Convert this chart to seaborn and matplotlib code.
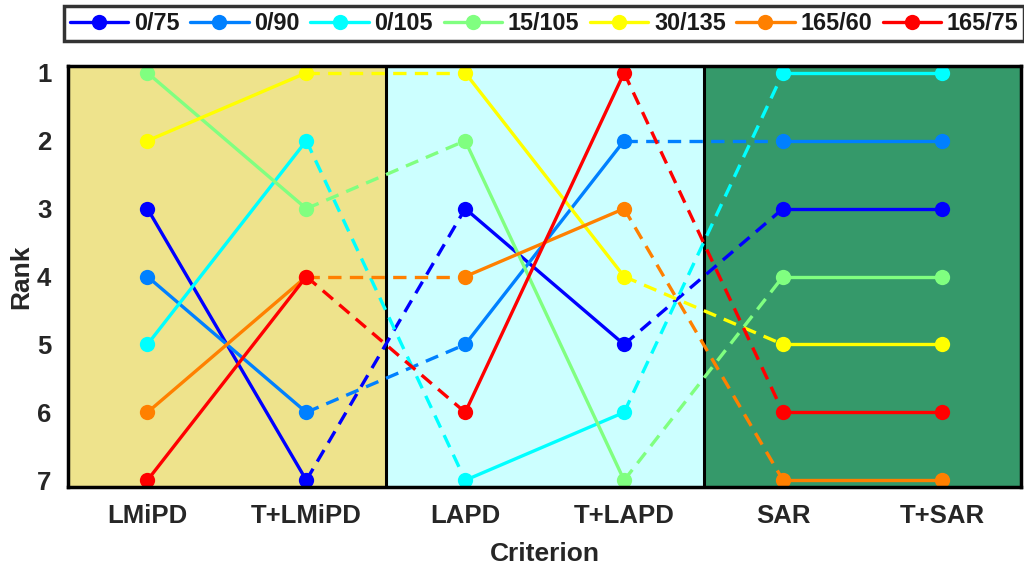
import matplotlib
matplotlib.use("Agg")
import matplotlib.pyplot as plt
import seaborn as sns
import pandas as pd
from matplotlib.lines import Line2D

sns.set_style("white")
plt.rcParams['font.family'] = ['Liberation Sans', 'DejaVu Sans']
plt.rcParams['font.weight'] = 'bold'

criteria = ["LMiPD", "T+LMiPD", "LAPD", "T+LAPD", "SAR", "T+SAR"]
series_names = ["0/75", "0/90", "0/105", "15/105", "30/135", "165/60", "165/75"]
r_0_75 = [3, 7, 3, 5, 3, 3]
r_0_90 = [4, 6, 5, 2, 2, 2]
r_0_105 = [5, 2, 7, 6, 1, 1]
r_15_105 = [1, 3, 2, 7, 4, 4]
r_30_135 = [2, 1, 1, 4, 5, 5]
r_165_60 = [6, 4, 4, 3, 7, 7]
r_165_75 = [7, 4, 6, 1, 6, 6]
ranks = [r_0_75, r_0_90, r_0_105, r_15_105, r_30_135, r_165_60, r_165_75]
colors = ["#0000ff", "#0080ff", "#00ffff", "#80ff80", "#ffff00", "#ff8000", "#ff0000"]
bg_colors = ["#eee38c", "#ccffff", "#35996a"]

solid_pairs = [(0, 1), (2, 3), (4, 5)]
dashed_pairs = [(1, 2), (3, 4)]

fig = plt.figure(figsize=(10.24, 5.67), dpi=100)
ax = fig.add_axes([0.0664, 0.141, 0.931, 0.7425])

for i, bc in enumerate(bg_colors):
    ax.axvspan(-0.5 + 2 * i, 1.5 + 2 * i, color=bc, zorder=0, lw=0)
for xv in [1.5, 3.5]:
    ax.axvline(xv, color="black", lw=2.2, zorder=1)

lw = 2.4
for name, vals, c in zip(series_names, ranks, colors):
    for a, b in dashed_pairs:
        df = pd.DataFrame({"x": [a, b], "y": [vals[a], vals[b]]})
        sns.lineplot(data=df, x="x", y="y", ax=ax, color=c, lw=lw,
                     linestyle=(0, (4, 2.5)), zorder=2)
for name, vals, c in zip(series_names, ranks, colors):
    for a, b in solid_pairs:
        df = pd.DataFrame({"x": [a, b], "y": [vals[a], vals[b]]})
        sns.lineplot(data=df, x="x", y="y", ax=ax, color=c, lw=lw,
                     marker="o", markersize=11, markeredgewidth=0, zorder=3)

ax.set_xlim(-0.5, 5.5)
ax.set_ylim(7.1, 0.9)
ax.set_xticks(range(len(criteria)))
ax.set_xticklabels(criteria)
ax.set_yticks(range(1, 8))
ax.tick_params(axis="both", length=0, labelsize=18.5, colors="#262626", pad=12)
for lab in ax.get_xticklabels() + ax.get_yticklabels():
    lab.set_fontweight("bold")
ax.set_xlabel("Criterion", fontsize=19, fontweight="bold", color="#262626", labelpad=10)
ax.set_ylabel("Rank", fontsize=19, fontweight="bold", color="#262626", labelpad=3)
for sp in ax.spines.values():
    sp.set_visible(True)
    sp.set_color("black")
    sp.set_linewidth(2.5)
    sp.set_zorder(5)

handles = [Line2D([0], [0], color=c, lw=lw, marker="o", markersize=11,
                  markeredgewidth=0) for c in colors]
leg = fig.legend(handles, series_names, loc="center", bbox_to_anchor=(0.5315, 0.958),
                 ncol=7, frameon=True, fontsize=16.8, handlelength=2.5,
                 columnspacing=0.45, handletextpad=0.25, borderpad=0.25,
                 fancybox=False, edgecolor="black")
leg.get_frame().set_linewidth(2.5)
for t in leg.get_texts():
    t.set_fontweight("bold")
    t.set_color("#1a1a1a")

fig.savefig("out.png", dpi=100)
